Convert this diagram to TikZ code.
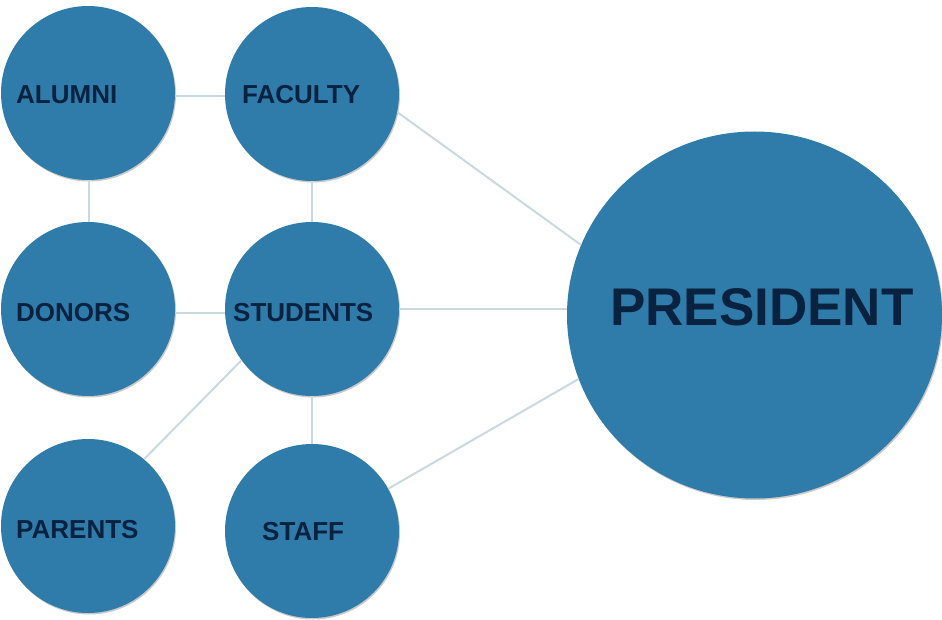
\documentclass[tikz,border=0pt]{standalone}
\usepackage{fontspec}
\setmainfont{Liberation Sans}
\usetikzlibrary{shadows,shapes.geometric}
\definecolor{circblue}{RGB}{47,124,171}
\definecolor{labelnavy}{RGB}{8,34,64}
\definecolor{linkgray}{RGB}{200,218,224}
\tikzset{
  bubble/.style={circle, fill=circblue, inner sep=0pt, draw=none,
    drop shadow={shadow xshift=1pt, shadow yshift=-1.5pt, opacity=0.35, fill=black!60}},
  small/.style={bubble, minimum size=174pt},
  big/.style={bubble, ellipse, minimum width=375pt, minimum height=367pt},
  lbl/.style={anchor=base west, inner sep=0pt, text=labelnavy,
    font=\bfseries\fontsize{26pt}{26pt}\selectfont},
  biglbl/.style={anchor=base west, inner sep=0pt, text=labelnavy,
    font=\bfseries\fontsize{53pt}{53pt}\selectfont},
  link/.style={draw=linkgray, line width=2pt}
}
\begin{document}
\begin{tikzpicture}[x=1pt, y=-1pt]
\useasboundingbox (0,0) rectangle (942,620);
\node[small] (alu) at (88,93) {};
\node[small] (fac) at (312,94) {};
\node[small] (don) at (88,309) {};
\node[small] (stu) at (312,309) {};
\node[small] (par) at (88,526) {};
\node[small] (sta) at (312,531) {};
\node[big] (pre) at (754.5,315) {};

\node[lbl] (talu) at (16,104) {ALUMNI};
\node[lbl] (tfac) at (242,104) {FACULTY};
\node[lbl] (tdon) at (16,321) {DONORS};
\node[lbl] (tstu) at (233,321) {STUDENTS};
\node[lbl] (tpar) at (16,538) {PARENTS};
\node[lbl] (tsta) at (262,540) {STAFF};
\node[biglbl] (tpre) at (610,325) {PRESIDENT};

\draw[link] (alu.east |- 0,96) -- (fac.west |- 0,96);
\draw[link] (alu.south -| 89,0) -- (don.north -| 89,0);
\draw[link] (fac.south) -- (stu.north);
\draw[link] (don.east |- 0,313) -- (stu.west |- 0,313);
\draw[link] (stu.south) -- (sta.north);
\draw[link] (stu.216) -- (par.50);
\draw[link] (fac.-12) -- (pre.158.5);
\draw[link] (stu.east) -- (pre.west |- 0,309);
\draw[link] (sta.29) -- (pre.200.5);
\end{tikzpicture}
\end{document}
